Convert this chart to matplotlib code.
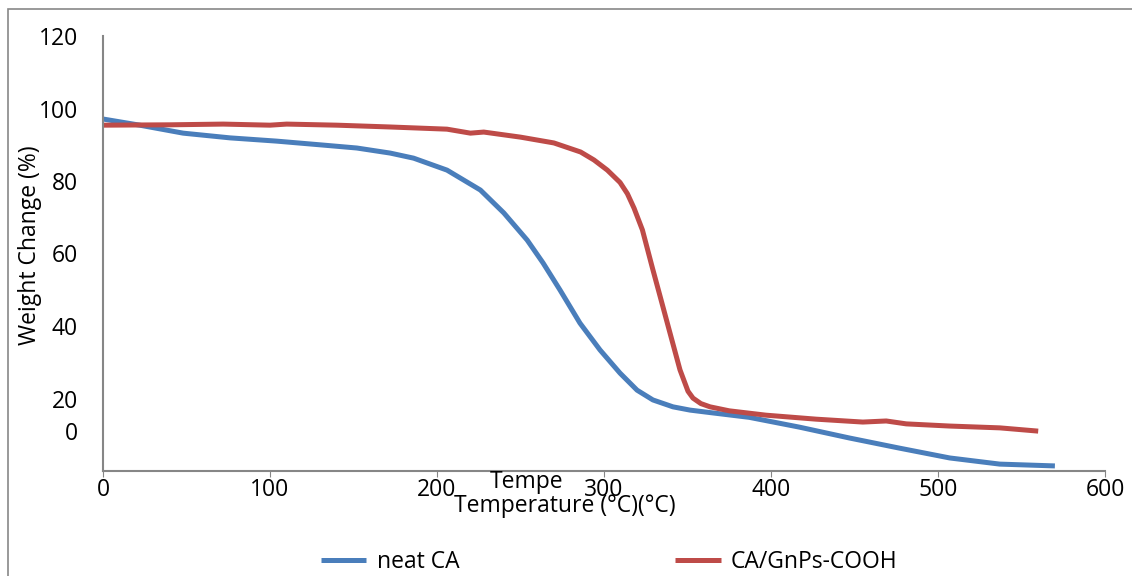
import matplotlib
matplotlib.use('Agg')
import matplotlib.pyplot as plt
from matplotlib.patches import Rectangle

plt.rcParams['font.family'] = ['Open Sans', 'DejaVu Sans']

# neat CA
blue_t = [0, 22, 48, 76, 104, 132, 152, 172, 186, 206, 226, 240, 254, 263.5, 273.7,
          285.6, 297.6, 309.6, 319.8, 329.3, 341.3, 351.5, 362, 387, 417, 447, 477, 507, 537, 570]
blue_w = [97.1, 95.4, 93.2, 91.9, 91.0, 89.9, 89.1, 87.7, 86.3, 83.0, 77.5, 71.2, 63.7, 57.4, 49.9,
          40.8, 33.4, 27.0, 22.3, 19.6, 17.7, 16.8, 16.2, 14.8, 12.1, 9.1, 6.3, 3.6, 1.9, 1.4]

# CA/GnPs-COOH
red_t = [0, 40, 72, 100, 110, 140, 172, 206, 220, 228, 250, 270, 286, 294, 302, 309.6, 314,
         318, 323, 329, 334, 339.5, 345.5, 350.3, 353.3, 358, 363.5, 375, 397, 427,
         455, 469, 481, 507, 537, 560]
red_w = [95.4, 95.5, 95.7, 95.4, 95.7, 95.4, 94.9, 94.3, 93.2, 93.5, 92.1, 90.5, 88.0, 85.8, 83.0, 79.6, 76.5,
         72.5, 66.5, 56.0, 47.5, 38.1, 27.9, 22.0, 20.1, 18.6, 17.7, 16.6, 15.4, 14.3,
         13.5, 13.8, 13.0, 12.4, 11.9, 11.0]

x_ticks = [0, 100, 200, 300, 400, 500, 600]
y_ticks = [11, 20, 40, 60, 80, 100, 120]
y_labels = ['0', '20', '40', '60', '80', '100', '120']

fig = plt.figure(figsize=(11.32, 5.76), dpi=100)
ax = fig.add_axes([103/1132, 105/576, 1002/1132, 435/576])

ax.plot(blue_t, blue_w, color='#4A7EBB', lw=3.6, label='neat CA',
        solid_capstyle='butt', solid_joinstyle='round')
ax.plot(red_t, red_w, color='#BE4B48', lw=3.6, label='CA/GnPs-COOH',
        solid_capstyle='butt', solid_joinstyle='round')

ax.set_xlim(0, 600)
ax.set_ylim(0, 120)
ax.set_xticks(x_ticks)
ax.set_yticks(y_ticks)
ax.set_yticklabels(y_labels)
ax.tick_params(axis='x', length=4, color='#868686', labelsize=16.5, pad=1)
ax.tick_params(axis='y', length=0, labelsize=16.5, pad=18)
for s in ['top', 'right']:
    ax.spines[s].set_visible(False)
for s in ['left', 'bottom']:
    ax.spines[s].set_color('#868686')
    ax.spines[s].set_linewidth(1.5)

ax.set_ylabel('Weight Change (%)', fontsize=16.5)
ax.yaxis.set_label_coords(-0.061, 0.52)
ax.set_xlabel('Temperature (°C)(°C)', fontsize=16.5)
ax.xaxis.set_label_coords(0.461, -0.052)
ax.text(0.423, -0.025, 'Tempe', transform=ax.transAxes, ha='center', va='center', fontsize=16.5)

fig.legend(loc='center', bbox_to_anchor=(0.538, 0.024), ncol=2, frameon=False, fontsize=16.5,
           handlelength=2.0, handletextpad=0.45, columnspacing=9.4)

fig.patches.append(Rectangle((7.5/1132, -0.5), 2, 0.5 + 567/576, transform=fig.transFigure,
                             fill=False, edgecolor='#888888', lw=1.2))

plt.savefig('out.png', dpi=100)
